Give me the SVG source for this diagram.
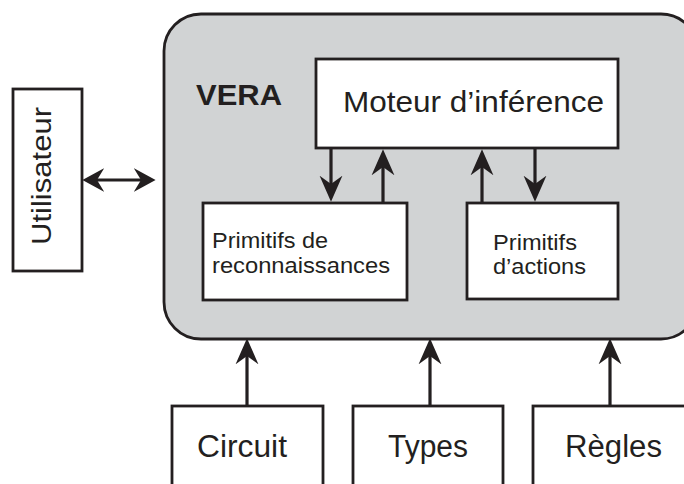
<svg xmlns="http://www.w3.org/2000/svg" width="684" height="484" viewBox="0 0 684 484">
  <defs>
    <style>
      .box { fill: #ffffff; stroke: #231f20; stroke-width: 2.8; }
      .frame { fill: #d1d3d4; stroke: #231f20; stroke-width: 2.8; }
      .link { stroke: #231f20; stroke-width: 3.2; fill: none; }
      .lbl { font-family: "Liberation Sans", Arial, Helvetica, sans-serif; fill: #231f20; }
    </style>
    <marker id="head" markerUnits="userSpaceOnUse" markerWidth="26" markerHeight="24" viewBox="0 0 25 22" refX="8" refY="11" orient="auto">
      <path d="M0,0 L25,11 L0,22 L8,11 Z" fill="#231f20"/>
    </marker>
    <marker id="headSmall" markerUnits="userSpaceOnUse" markerWidth="22" markerHeight="24" viewBox="0 0 21 23" refX="7" refY="11.5" orient="auto">
      <path d="M0,0 L21,11.5 L0,23 L7,11.5 Z" fill="#231f20"/>
    </marker>
    <marker id="headSmallStart" markerUnits="userSpaceOnUse" markerWidth="22" markerHeight="24" viewBox="0 0 21 23" refX="14" refY="11.5" orient="auto">
      <path d="M21,0 L0,11.5 L21,23 L14,11.5 Z" fill="#231f20"/>
    </marker>
  </defs>

  <!-- VERA system frame -->
  <g id="vera">
    <rect class="frame" x="164" y="14" width="534" height="325" rx="37" ry="37"/>
    <text class="lbl" x="196" y="105" font-size="30" font-weight="bold" textLength="86" lengthAdjust="spacingAndGlyphs">VERA</text>
  </g>

  <g id="utilisateur">
    <rect class="box" x="13" y="89" width="69" height="182"/>
    <text class="lbl" transform="translate(51,176) rotate(-90)" x="0" y="0" font-size="27" text-anchor="middle" textLength="138" lengthAdjust="spacingAndGlyphs">Utilisateur</text>
  </g>

  <g id="moteur">
    <rect class="box" x="316" y="59" width="302" height="89"/>
    <text class="lbl" x="343" y="112" font-size="30" textLength="261" lengthAdjust="spacingAndGlyphs">Moteur d’inférence</text>
  </g>

  <g id="reconnaissances">
    <rect class="box" x="203" y="203" width="204" height="97"/>
    <text class="lbl" x="212" y="248" font-size="22" textLength="116" lengthAdjust="spacingAndGlyphs">Primitifs de</text>
    <text class="lbl" x="212" y="273" font-size="22" textLength="178" lengthAdjust="spacingAndGlyphs">reconnaissances</text>
  </g>

  <g id="actions">
    <rect class="box" x="467" y="203" width="151" height="96"/>
    <text class="lbl" x="493" y="250" font-size="22" textLength="84" lengthAdjust="spacingAndGlyphs">Primitifs</text>
    <text class="lbl" x="493" y="274" font-size="22" textLength="93" lengthAdjust="spacingAndGlyphs">d’actions</text>
  </g>

  <g id="circuit">
    <rect class="box" x="172" y="406" width="151" height="90"/>
    <text class="lbl" x="197" y="457" font-size="31" textLength="90" lengthAdjust="spacingAndGlyphs">Circuit</text>
  </g>

  <g id="types">
    <rect class="box" x="353" y="406" width="150" height="90"/>
    <text class="lbl" x="388" y="457" font-size="31" textLength="80" lengthAdjust="spacingAndGlyphs">Types</text>
  </g>

  <g id="regles">
    <rect class="box" x="533" y="406" width="170" height="90"/>
    <text class="lbl" x="565" y="457" font-size="31" textLength="97" lengthAdjust="spacingAndGlyphs">Règles</text>
  </g>

  <!-- connectors -->
  <g id="connectors">
    <line class="link" x1="97" y1="180" x2="141" y2="180" marker-start="url(#headSmallStart)" marker-end="url(#headSmall)"/>
    <line class="link" x1="331" y1="148" x2="331" y2="184" marker-end="url(#head)"/>
    <line class="link" x1="383" y1="203" x2="383" y2="167" marker-end="url(#head)"/>
    <line class="link" x1="482" y1="203" x2="482" y2="167" marker-end="url(#head)"/>
    <line class="link" x1="535" y1="148" x2="535" y2="184" marker-end="url(#head)"/>
    <line class="link" x1="247" y1="406" x2="247" y2="356" marker-end="url(#head)"/>
    <line class="link" x1="430" y1="406" x2="430" y2="356" marker-end="url(#head)"/>
    <line class="link" x1="610" y1="406" x2="610" y2="356" marker-end="url(#head)"/>
  </g>
</svg>
